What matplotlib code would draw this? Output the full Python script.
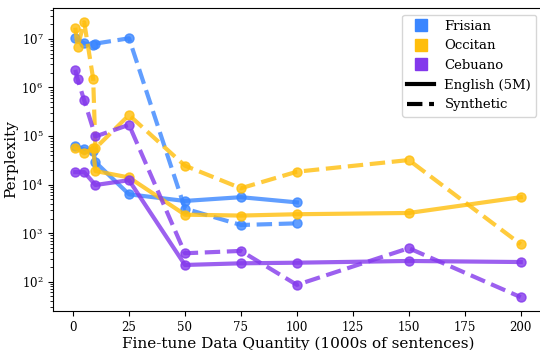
import matplotlib
matplotlib.use("Agg")
from matplotlib import pyplot as plt
from matplotlib.lines import Line2D

plt.rcParams['font.family'] = 'DejaVu Serif'

# data quantity (1000s of sentences)
x_fri_en = [1, 5, 9, 10, 25, 50, 75, 100]
fri_en = [63000, 53000, 50000, 29000, 6300, 4600, 5500, 4300]
x_fri_syn = [1, 5, 9, 10, 25, 50, 75, 100]
fri_syn = [10300000, 8100000, 7600000, 8000000, 10300000, 3200, 1470, 1590]

x_occ_en = [1, 5, 9, 10, 25, 50, 75, 100, 150, 200]
occ_en = [58000, 44000, 56000, 19000, 14000, 2400, 2300, 2450, 2600, 5500]
x_occ_syn = [1, 2, 5, 9, 10, 25, 50, 75, 100, 150, 200]
occ_syn = [17000000, 6900000, 22000000, 1500000, 56000, 270000, 24500, 8400, 18400, 32000, 590]

x_ceb_en = [1, 5, 10, 25, 50, 75, 100, 150, 200]
ceb_en = [18000, 18000, 9800, 12300, 221, 239, 246, 267, 254]
x_ceb_syn = [1, 2, 5, 10, 25, 50, 75, 100, 150, 200]
ceb_syn = [2300000, 1500000, 540000, 98000, 170000, 385, 430, 86, 490, 48]

c_fri = '#3a86ff'
c_occ = '#ffbe0b'
c_ceb = '#8338ec'

fig = plt.figure(figsize=(5.4, 3.5), dpi=100)
ax = fig.add_axes([53/540, 39/350, 490/540, 303/350])

kw = dict(marker='o', markersize=6.5, linewidth=3, alpha=0.8)
ax.plot(x_fri_en, fri_en, color=c_fri, linestyle='-', **kw)
ax.plot(x_fri_syn, fri_syn, color=c_fri, linestyle='--', **kw)
ax.plot(x_occ_en, occ_en, color=c_occ, linestyle='-', **kw)
ax.plot(x_occ_syn, occ_syn, color=c_occ, linestyle='--', **kw)
ax.plot(x_ceb_en, ceb_en, color=c_ceb, linestyle='-', **kw)
ax.plot(x_ceb_syn, ceb_syn, color=c_ceb, linestyle='--', **kw)

ax.set_yscale('log')
ax.set_xlim(-8.95, 209.95)
ax.set_ylim(24.9, 4.33e7)
ax.set_xticks([0, 25, 50, 75, 100, 125, 150, 175, 200])
ax.tick_params(labelsize=8.5)
ax.set_xlabel('Fine-tune Data Quantity (1000s of sentences)', fontsize=11, labelpad=2)
ax.set_ylabel('Perplexity', fontsize=11, labelpad=2)

handles = [
    Line2D([], [], marker='s', linestyle='None', color=c_fri, markersize=9),
    Line2D([], [], marker='s', linestyle='None', color=c_occ, markersize=9),
    Line2D([], [], marker='s', linestyle='None', color=c_ceb, markersize=9),
    Line2D([], [], color='black', linestyle='-', linewidth=3),
    Line2D([], [], color='black', linestyle='--', linewidth=3),
]
labels = ['Frisian', 'Occitan', 'Cebuano', 'English (5M)', 'Synthetic']
ax.legend(handles, labels, loc='upper right', fontsize=9.5)

fig.savefig('out.png', dpi=100)
